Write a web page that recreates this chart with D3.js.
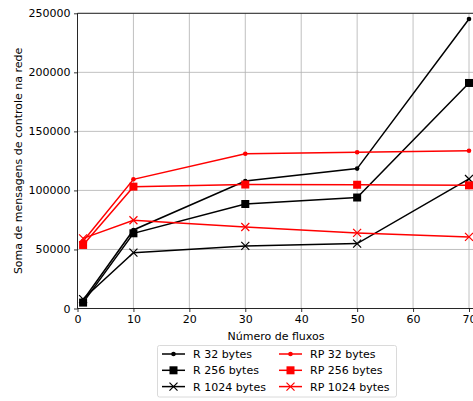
<!DOCTYPE html>
<html><head><meta charset="utf-8">
<script src="https://cdn.jsdelivr.net/npm/d3@7"></script>
<style>body{margin:0;background:#fff}svg{display:block;font-family:"DejaVu Sans",sans-serif}</style>
</head><body><svg id="c" width="473" height="401"></svg>
<script>
const xValues = [1, 10, 30, 50, 70];
const r32 = [7000, 66500, 108000, 118500, 245200];
const r256 = [5000, 63700, 88500, 94000, 191000];
const r1024 = [8000, 47300, 53000, 55000, 109700];
const rp32 = [57000, 109400, 131000, 132300, 133600];
const rp256 = [53800, 103200, 105000, 104800, 104300];
const rp1024 = [59400, 74700, 69000, 64000, 60600];
const seriesNames = ["R 32 bytes", "R 256 bytes", "R 1024 bytes", "RP 32 bytes", "RP 256 bytes", "RP 1024 bytes"];
const seriesColors = ["#000000", "#000000", "#000000", "#ff0000", "#ff0000", "#ff0000"];
const seriesMarkers = ["dot", "square", "x", "dot", "square", "x"];
const seriesValues = [r32, r256, r1024, rp32, rp256, rp1024];
const xTicks = [0, 10, 20, 30, 40, 50, 60, 70];
const yTicks = [0, 50000, 100000, 150000, 200000, 250000];

const svg = d3.select("#c");
const pLeft = 77.5, pTop = 13.3, pBottom = 308.5;
const x = d3.scaleLinear().domain([0, 70]).range([pLeft, 469]);
const xEnd = x(71.5);
const y = d3.scaleLinear().domain([0, 250000]).range([pBottom, pTop]);
const FS = 11;

// grid
const g = svg.append("g");
g.selectAll(".gx").data(xTicks).enter().append("line")
  .attr("x1", d => x(d)).attr("x2", d => x(d)).attr("y1", pTop).attr("y2", pBottom)
  .attr("stroke", "#b0b0b0").attr("stroke-width", 0.8);
g.selectAll(".gy").data(yTicks).enter().append("line")
  .attr("x1", pLeft).attr("x2", xEnd).attr("y1", d => y(d)).attr("y2", d => y(d))
  .attr("stroke", "#b0b0b0").attr("stroke-width", 0.8);

// axes
const xAxis = d3.axisBottom(x).tickValues(xTicks).tickSize(3.5).tickPadding(3).tickFormat(d3.format("d"));
const yAxis = d3.axisLeft(y).tickValues(yTicks).tickSize(3.5).tickPadding(3.5).tickFormat(d3.format("d"));
const ax = svg.append("g").attr("transform", `translate(0,${pBottom})`).call(xAxis);
const ay = svg.append("g").attr("transform", `translate(${pLeft},0)`).call(yAxis);
[ax, ay].forEach(a => {
  a.select(".domain").remove();
  a.selectAll("text").attr("font-size", FS).attr("fill", "#000").attr("font-family", "DejaVu Sans");
  a.selectAll("line").attr("stroke", "#000").attr("stroke-width", 0.8);
});

// spines
svg.append("line").attr("x1", pLeft).attr("x2", pLeft).attr("y1", pTop).attr("y2", pBottom).attr("stroke", "#000").attr("stroke-width", 0.8);
svg.append("line").attr("x1", pLeft).attr("x2", xEnd).attr("y1", pBottom).attr("y2", pBottom).attr("stroke", "#000").attr("stroke-width", 0.8);
svg.append("line").attr("x1", pLeft).attr("x2", xEnd).attr("y1", pTop).attr("y2", pTop).attr("stroke", "#000").attr("stroke-width", 0.8);

function marker(sel, type, color, cx, cy, scale) {
  scale = scale || 1;
  if (type === "dot") {
    sel.append("circle").attr("cx", cx).attr("cy", cy).attr("r", 2.3 * scale).attr("fill", color);
  } else if (type === "square") {
    const s = 8 * scale;
    sel.append("rect").attr("x", cx - s / 2).attr("y", cy - s / 2).attr("width", s).attr("height", s).attr("fill", color);
  } else {
    const h = 4 * scale;
    sel.append("path").attr("d", `M${cx - h},${cy - h}L${cx + h},${cy + h}M${cx - h},${cy + h}L${cx + h},${cy - h}`)
      .attr("stroke", color).attr("stroke-width", 1.2).attr("fill", "none");
  }
}

const line = d3.line().x((d, i) => x(xValues[i])).y(d => y(d));
seriesValues.forEach((vals, k) => {
  const sg = svg.append("g");
  sg.append("path").attr("d", line(vals)).attr("fill", "none").attr("stroke", seriesColors[k]).attr("stroke-width", 1.5);
  vals.forEach((v, i) => marker(sg, seriesMarkers[k], seriesColors[k], x(xValues[i]), y(v)));
});

// axis labels
svg.append("text").attr("x", 276).attr("y", 340).attr("text-anchor", "middle")
  .attr("font-size", FS).text("Número de fluxos");
svg.append("text").attr("transform", `translate(22,${(pTop + pBottom) / 2}) rotate(-90)`).attr("text-anchor", "middle")
  .attr("font-size", FS).text("Soma de mensagens de controle na rede");

// legend
const lg = svg.append("g");
lg.append("rect").attr("x", 157.5).attr("y", 345.5).attr("width", 239).attr("height", 51.5).attr("rx", 2)
  .attr("fill", "#fff").attr("stroke", "#d0d0d0").attr("stroke-width", 0.8);
seriesNames.forEach((name, k) => {
  const col = Math.floor(k / 3), row = k % 3;
  const lx = 162 + col * 117, ly = 354 + row * 16.3;
  lg.append("line").attr("x1", lx).attr("x2", lx + 23).attr("y1", ly).attr("y2", ly)
    .attr("stroke", seriesColors[k]).attr("stroke-width", 1.5);
  marker(lg, seriesMarkers[k], seriesColors[k], lx + 11.5, ly, 1);
  lg.append("text").attr("x", lx + 31).attr("y", ly + 4).attr("font-size", FS).text(name);
});
</script></body></html>
